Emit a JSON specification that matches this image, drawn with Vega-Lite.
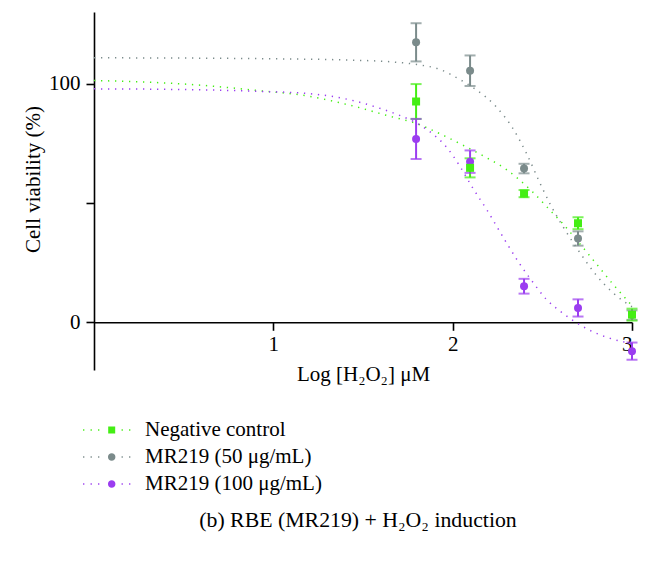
{
  "$schema": "https://vega.github.io/schema/vega-lite/v6.json",
  "width": 538,
  "height": 358,
  "autosize": "none",
  "padding": {"left": 94, "top": 12, "right": 18, "bottom": 193},
  "background": "white",
  "title": {
    "text": "(b) RBE (MR219) + H₂O₂ induction",
    "orient": "bottom",
    "anchor": "middle",
    "frame": "group",
    "dx": -5,
    "offset": 16,
    "font": "Liberation Serif",
    "fontSize": 21.8,
    "fontWeight": "normal",
    "color": "black"
  },
  "resolve": {"scale": {"shape": "independent"}, "legend": {"color": "independent", "shape": "independent"}},
  "config": {
    "view": {"stroke": null},
    "axis": {
      "labelFont": "Liberation Serif",
      "labelFontSize": 21,
      "labelColor": "black",
      "titleFont": "Liberation Serif",
      "titleFontSize": 21,
      "titleFontWeight": "normal",
      "titleColor": "black",
      "domainColor": "black",
      "tickColor": "black",
      "domainWidth": 1.6,
      "tickWidth": 1.6,
      "tickSize": 8,
      "grid": false
    },
    "legend": {
      "labelFont": "Liberation Serif",
      "labelFontSize": 21,
      "labelColor": "black",
      "labelLimit": 400
    }
  },
  "datasets": {
    "pts": [
      {"series": "MR219 (50 μg/mL)", "x": 1.796, "y": 117.3, "lo": 109.3, "hi": 125.3},
      {"series": "MR219 (50 μg/mL)", "x": 2.097, "y": 105.4, "lo": 99.0, "hi": 111.8},
      {"series": "MR219 (50 μg/mL)", "x": 2.398, "y": 64.4, "lo": 62.4, "hi": 66.4},
      {"series": "MR219 (50 μg/mL)", "x": 2.699, "y": 35.1, "lo": 32.1, "hi": 38.1},
      {"series": "MR219 (50 μg/mL)", "x": 3.0, "y": 3.0, "lo": 1.0, "hi": 5.0},
      {"series": "MR219 (100 μg/mL)", "x": 1.796, "y": 76.8, "lo": 68.4, "hi": 85.2},
      {"series": "MR219 (100 μg/mL)", "x": 2.097, "y": 67.3, "lo": 62.6, "hi": 72.0},
      {"series": "MR219 (100 μg/mL)", "x": 2.398, "y": 15.1, "lo": 12.0, "hi": 18.2},
      {"series": "MR219 (100 μg/mL)", "x": 2.699, "y": 6.0, "lo": 2.4, "hi": 9.6},
      {"series": "MR219 (100 μg/mL)", "x": 3.0, "y": -12.1, "lo": -15.7, "hi": -8.5},
      {"series": "Negative control", "x": 1.796, "y": 92.5, "lo": 85.2, "hi": 99.8},
      {"series": "Negative control", "x": 2.097, "y": 64.7, "lo": 60.7, "hi": 68.7},
      {"series": "Negative control", "x": 2.398, "y": 53.9, "lo": 52.4, "hi": 55.4},
      {"series": "Negative control", "x": 2.699, "y": 41.5, "lo": 39.0, "hi": 44.0},
      {"series": "Negative control", "x": 3.0, "y": 3.2, "lo": 0.7, "hi": 5.7}
    ],
    "curves": [
      {"series": "Negative control", "x": 0.0, "y": 101.3},
      {"series": "Negative control", "x": 0.3, "y": 100.6},
      {"series": "Negative control", "x": 0.6, "y": 99.3},
      {"series": "Negative control", "x": 0.9, "y": 97.2},
      {"series": "Negative control", "x": 1.2, "y": 94.7},
      {"series": "Negative control", "x": 1.45, "y": 90.5},
      {"series": "Negative control", "x": 1.66, "y": 86.1},
      {"series": "Negative control", "x": 1.79, "y": 83.5},
      {"series": "Negative control", "x": 1.94, "y": 78.6},
      {"series": "Negative control", "x": 2.07, "y": 73.7},
      {"series": "Negative control", "x": 2.19, "y": 68.9},
      {"series": "Negative control", "x": 2.3, "y": 64.0},
      {"series": "Negative control", "x": 2.37, "y": 59.8},
      {"series": "Negative control", "x": 2.45, "y": 54.3},
      {"series": "Negative control", "x": 2.53, "y": 48.0},
      {"series": "Negative control", "x": 2.62, "y": 40.8},
      {"series": "Negative control", "x": 2.71, "y": 32.8},
      {"series": "Negative control", "x": 2.8, "y": 24.6},
      {"series": "Negative control", "x": 2.89, "y": 16.3},
      {"series": "Negative control", "x": 3.0, "y": 7.0},
      {"series": "MR219 (50 μg/mL)", "x": 0.0, "y": 110.8},
      {"series": "MR219 (50 μg/mL)", "x": 0.5, "y": 110.7},
      {"series": "MR219 (50 μg/mL)", "x": 1.0, "y": 110.4},
      {"series": "MR219 (50 μg/mL)", "x": 1.4, "y": 109.9},
      {"series": "MR219 (50 μg/mL)", "x": 1.66, "y": 109.1},
      {"series": "MR219 (50 μg/mL)", "x": 1.8, "y": 108.0},
      {"series": "MR219 (50 μg/mL)", "x": 1.93, "y": 105.9},
      {"series": "MR219 (50 μg/mL)", "x": 2.04, "y": 101.7},
      {"series": "MR219 (50 μg/mL)", "x": 2.13, "y": 97.5},
      {"series": "MR219 (50 μg/mL)", "x": 2.24, "y": 90.5},
      {"series": "MR219 (50 μg/mL)", "x": 2.34, "y": 80.7},
      {"series": "MR219 (50 μg/mL)", "x": 2.41, "y": 71.0},
      {"series": "MR219 (50 μg/mL)", "x": 2.495, "y": 57.0},
      {"series": "MR219 (50 μg/mL)", "x": 2.55, "y": 48.6},
      {"series": "MR219 (50 μg/mL)", "x": 2.62, "y": 39.5},
      {"series": "MR219 (50 μg/mL)", "x": 2.71, "y": 29.1},
      {"series": "MR219 (50 μg/mL)", "x": 2.8, "y": 19.8},
      {"series": "MR219 (50 μg/mL)", "x": 2.89, "y": 12.6},
      {"series": "MR219 (50 μg/mL)", "x": 3.0, "y": 6.5},
      {"series": "MR219 (100 μg/mL)", "x": 0.0, "y": 97.8},
      {"series": "MR219 (100 μg/mL)", "x": 0.5, "y": 97.5},
      {"series": "MR219 (100 μg/mL)", "x": 0.9, "y": 96.8},
      {"series": "MR219 (100 μg/mL)", "x": 1.2, "y": 95.8},
      {"series": "MR219 (100 μg/mL)", "x": 1.45, "y": 92.8},
      {"series": "MR219 (100 μg/mL)", "x": 1.6, "y": 89.5},
      {"series": "MR219 (100 μg/mL)", "x": 1.7, "y": 86.8},
      {"series": "MR219 (100 μg/mL)", "x": 1.78, "y": 84.2},
      {"series": "MR219 (100 μg/mL)", "x": 1.87, "y": 80.0},
      {"series": "MR219 (100 μg/mL)", "x": 1.97, "y": 73.0},
      {"series": "MR219 (100 μg/mL)", "x": 2.04, "y": 65.4},
      {"series": "MR219 (100 μg/mL)", "x": 2.11, "y": 56.5},
      {"series": "MR219 (100 μg/mL)", "x": 2.19, "y": 47.2},
      {"series": "MR219 (100 μg/mL)", "x": 2.3, "y": 33.3},
      {"series": "MR219 (100 μg/mL)", "x": 2.37, "y": 24.9},
      {"series": "MR219 (100 μg/mL)", "x": 2.45, "y": 16.5},
      {"series": "MR219 (100 μg/mL)", "x": 2.52, "y": 9.8},
      {"series": "MR219 (100 μg/mL)", "x": 2.6, "y": 4.6},
      {"series": "MR219 (100 μg/mL)", "x": 2.67, "y": 0.8},
      {"series": "MR219 (100 μg/mL)", "x": 2.75, "y": -2.8},
      {"series": "MR219 (100 μg/mL)", "x": 2.86, "y": -6.3},
      {"series": "MR219 (100 μg/mL)", "x": 3.0, "y": -9.0}
    ]
  },
  "layer": [
    {
      "data": {"name": "curves"},
      "mark": {"type": "line", "interpolate": "monotone", "strokeDash": [1.3, 5.7], "strokeWidth": 1.5, "strokeCap": "butt"},
      "encoding": {
        "x": {"field": "x", "type": "quantitative", "scale": {"domain": [0, 3], "nice": false, "zero": false},
          "axis": {"values": [1, 2, 3], "offset": -47.7, "title": "Log [H₂O₂] μM", "labelPadding": 3, "titlePadding": 9, "format": "d"}},
        "y": {"field": "y", "type": "quantitative", "scale": {"domain": [-20, 130], "nice": false, "zero": false},
          "axis": {"values": [0, 50, 100], "labelExpr": "datum.value == 50 ? '' : datum.label", "title": "Cell viability (%)", "labelPadding": 6, "titlePadding": 5, "titleY": 167}},
        "color": {"field": "series", "type": "nominal", "legend": null,
          "scale": {"domain": ["Negative control", "MR219 (50 μg/mL)", "MR219 (100 μg/mL)"], "range": ["#44EE14", "#7B8B8B", "#9B3DF0"]}},
        "detail": {"field": "series"}
      }
    },
    {
      "data": {"name": "pts"},
      "mark": {"type": "rule", "strokeWidth": 2},
      "encoding": {
        "x": {"field": "x", "type": "quantitative"},
        "y": {"field": "lo", "type": "quantitative", "title": "Cell viability (%)"},
        "y2": {"field": "hi"},
        "color": {"field": "series", "type": "nominal", "legend": null}
      }
    },
    {
      "data": {"name": "pts"},
      "mark": {"type": "tick", "orient": "horizontal", "size": 11, "thickness": 2},
      "encoding": {
        "x": {"field": "x", "type": "quantitative"},
        "y": {"field": "lo", "type": "quantitative", "title": "Cell viability (%)"},
        "color": {"field": "series", "type": "nominal", "legend": null}
      }
    },
    {
      "data": {"name": "pts"},
      "mark": {"type": "tick", "orient": "horizontal", "size": 11, "thickness": 2},
      "encoding": {
        "x": {"field": "x", "type": "quantitative"},
        "y": {"field": "hi", "type": "quantitative", "title": "Cell viability (%)"},
        "color": {"field": "series", "type": "nominal", "legend": null}
      }
    },
    {
      "data": {"name": "pts"},
      "mark": {"type": "point", "filled": true, "opacity": 1, "size": 64},
      "encoding": {
        "x": {"field": "x", "type": "quantitative"},
        "y": {"field": "y", "type": "quantitative", "title": "Cell viability (%)"},
        "color": {"field": "series", "type": "nominal", "legend": null},
        "shape": {"field": "series", "type": "nominal", "legend": null,
          "scale": {"domain": ["Negative control", "MR219 (50 μg/mL)", "MR219 (100 μg/mL)"], "range": ["square", "circle", "circle"]}}
      }
    },
    {
      "data": {"name": "pts"},
      "mark": {"type": "point", "filled": true, "opacity": 0},
      "encoding": {
        "x": {"field": "x", "type": "quantitative"},
        "y": {"field": "y", "type": "quantitative", "title": "Cell viability (%)"},
        "color": {"field": "series", "type": "nominal",
          "legend": {"orient": "none", "legendX": 0.7, "legendY": 401, "title": null, "symbolSize": 1156, "labelOffset": 16.3, "rowPadding": 0, "symbolOpacity": 1, "symbolStrokeWidth": 0}},
        "shape": {"field": "series", "type": "nominal",
          "legend": {"orient": "none", "legendX": 0.7, "legendY": 401, "title": null, "symbolSize": 1156, "labelOffset": 16.3, "rowPadding": 0, "symbolOpacity": 1, "symbolStrokeWidth": 0},
          "scale": {"domain": ["Negative control", "MR219 (50 μg/mL)", "MR219 (100 μg/mL)"],
            "range": [
              "M-1.685,-0.038h0.076v0.076h-0.076ZM-1.244,-0.038h0.076v0.076h-0.076ZM-0.803,-0.038h0.076v0.076h-0.076ZM0.58,-0.038h0.076v0.076h-0.076ZM1.021,-0.038h0.076v0.076h-0.076ZM-0.206,-0.206h0.412v0.412h-0.412Z",
              "M-1.685,-0.038h0.076v0.076h-0.076ZM-1.244,-0.038h0.076v0.076h-0.076ZM-0.803,-0.038h0.076v0.076h-0.076ZM0.58,-0.038h0.076v0.076h-0.076ZM1.021,-0.038h0.076v0.076h-0.076ZM-0.22,0A0.22,0.22 0 1,0 0.22,0A0.22,0.22 0 1,0 -0.22,0Z",
              "M-1.685,-0.038h0.076v0.076h-0.076ZM-1.244,-0.038h0.076v0.076h-0.076ZM-0.803,-0.038h0.076v0.076h-0.076ZM0.58,-0.038h0.076v0.076h-0.076ZM1.021,-0.038h0.076v0.076h-0.076ZM-0.22,0A0.22,0.22 0 1,0 0.22,0A0.22,0.22 0 1,0 -0.22,0Z"
            ]}}
      }
    }
  ]
}
